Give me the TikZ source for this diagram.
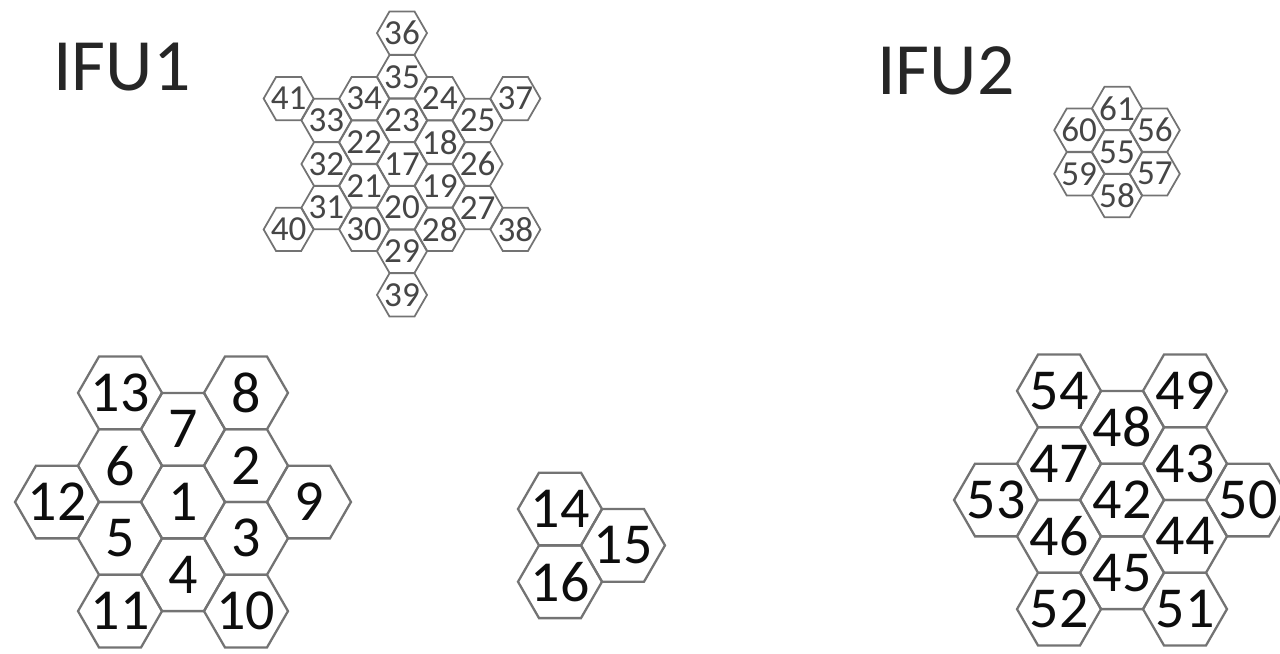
\documentclass[tikz,border=0pt]{standalone}
\usepackage{fontspec}
\setmainfont{Carlito}
\usetikzlibrary{shapes.geometric}
\definecolor{cellgray}{RGB}{115,115,115}
\definecolor{smalltext}{RGB}{70,70,70}

\begin{document}
\begin{tikzpicture}[x=0.02cm, y=-0.02cm,
    bigcell/.style={draw=cellgray, line width=1.3pt, regular polygon, regular polygon sides=6,
        minimum size=1.68cm, inner sep=-4pt, text=black!95, font=\fontsize{33}{33}\selectfont},
    smallcell/.style={draw=cellgray, line width=1pt, regular polygon, regular polygon sides=6,
        minimum size=1.0cm, inner sep=-4pt, text=smalltext, font=\fontsize{20}{20}\selectfont},
    title/.style={text=black!85, font=\fontsize{42}{42}\selectfont}]
    \useasboundingbox (0,0) rectangle (1280,653);

    % Titles
    \node (ifu1) [title] at (122,67) {IFU1};
    \node (ifu2) [title] at (946,71) {IFU2};

    % IFU1, large bundle
    \begin{scope}[shift={(183,502)}, x=1.26cm, y=-0.7275cm]
    \node (c1) [bigcell] at (0,0) {1};
    \node (c2) [bigcell] at (1,-1) {2};
    \node (c3) [bigcell] at (1,1) {3};
    \node (c4) [bigcell] at (0,2) {4};
    \node (c5) [bigcell] at (-1,1) {5};
    \node (c6) [bigcell] at (-1,-1) {6};
    \node (c7) [bigcell] at (0,-2) {7};
    \node (c8) [bigcell] at (1,-3) {8};
    \node (c9) [bigcell] at (2,0) {9};
    \node (c10) [bigcell] at (1,3) {10};
    \node (c11) [bigcell] at (-1,3) {11};
    \node (c12) [bigcell] at (-2,0) {12};
    \node (c13) [bigcell] at (-1,-3) {13};
    \end{scope}

    % IFU1, sky fibres
    \begin{scope}[shift={(560,509)}, x=1.26cm, y=-0.7275cm]
    \node (c14) [bigcell] at (0,0) {14};
    \node (c15) [bigcell] at (1,1) {15};
    \node (c16) [bigcell] at (0,2) {16};
    \end{scope}

    % IFU1, small bundle
    \begin{scope}[shift={(402,164)}, x=0.756cm, y=-0.4365cm]
    \node (c17) [smallcell] at (0,0) {17};
    \node (c18) [smallcell] at (1,-1) {18};
    \node (c19) [smallcell] at (1,1) {19};
    \node (c20) [smallcell] at (0,2) {20};
    \node (c21) [smallcell] at (-1,1) {21};
    \node (c22) [smallcell] at (-1,-1) {22};
    \node (c23) [smallcell] at (0,-2) {23};
    \node (c24) [smallcell] at (1,-3) {24};
    \node (c25) [smallcell] at (2,-2) {25};
    \node (c26) [smallcell] at (2,0) {26};
    \node (c27) [smallcell] at (2,2) {27};
    \node (c28) [smallcell] at (1,3) {28};
    \node (c29) [smallcell] at (0,4) {29};
    \node (c30) [smallcell] at (-1,3) {30};
    \node (c31) [smallcell] at (-2,2) {31};
    \node (c32) [smallcell] at (-2,0) {32};
    \node (c33) [smallcell] at (-2,-2) {33};
    \node (c34) [smallcell] at (-1,-3) {34};
    \node (c35) [smallcell] at (0,-4) {35};
    \node (c36) [smallcell] at (0,-6) {36};
    \node (c37) [smallcell] at (3,-3) {37};
    \node (c38) [smallcell] at (3,3) {38};
    \node (c39) [smallcell] at (0,6) {39};
    \node (c40) [smallcell] at (-3,3) {40};
    \node (c41) [smallcell] at (-3,-3) {41};
    \end{scope}

    % IFU2, large bundle
    \begin{scope}[shift={(1122,500)}, x=1.26cm, y=-0.7275cm]
    \node (c42) [bigcell] at (0,0) {42};
    \node (c43) [bigcell] at (1,-1) {43};
    \node (c44) [bigcell] at (1,1) {44};
    \node (c45) [bigcell] at (0,2) {45};
    \node (c46) [bigcell] at (-1,1) {46};
    \node (c47) [bigcell] at (-1,-1) {47};
    \node (c48) [bigcell] at (0,-2) {48};
    \node (c49) [bigcell] at (1,-3) {49};
    \node (c50) [bigcell] at (2,0) {50};
    \node (c51) [bigcell] at (1,3) {51};
    \node (c52) [bigcell] at (-1,3) {52};
    \node (c53) [bigcell] at (-2,0) {53};
    \node (c54) [bigcell] at (-1,-3) {54};
    \end{scope}

    % IFU2, small bundle
    \begin{scope}[shift={(1117,152)}, x=0.756cm, y=-0.4365cm]
    \node (c55) [smallcell] at (0,0) {55};
    \node (c56) [smallcell] at (1,-1) {56};
    \node (c57) [smallcell] at (1,1) {57};
    \node (c58) [smallcell] at (0,2) {58};
    \node (c59) [smallcell] at (-1,1) {59};
    \node (c60) [smallcell] at (-1,-1) {60};
    \node (c61) [smallcell] at (0,-2) {61};
    \end{scope}
\end{tikzpicture}
\end{document}
